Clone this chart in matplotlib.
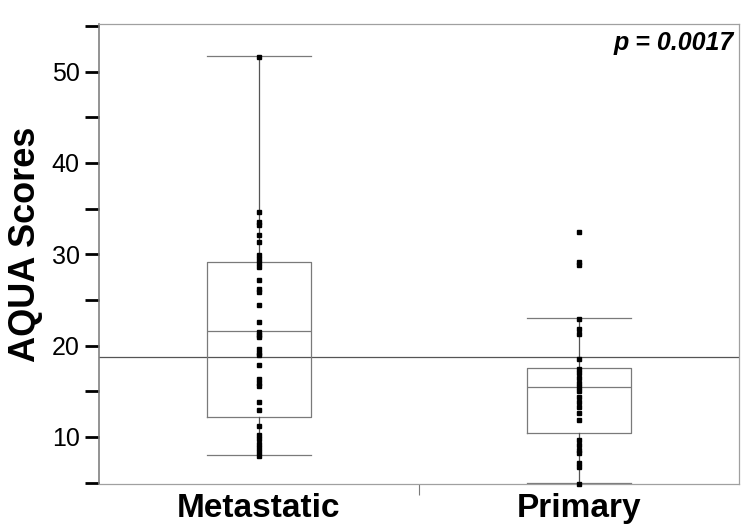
import numpy as np
import matplotlib
matplotlib.use("Agg")
import matplotlib.pyplot as plt

plt.rcParams["font.family"] = ["Liberation Sans", "DejaVu Sans"]

# data
groups = ["Metastatic", "Primary"]
metastatic = [51.6, 34.6, 33.5, 33.2, 32.1, 31.3, 29.9, 29.5, 29.0, 28.6,
              27.2, 26.2, 25.9, 24.4, 22.6, 21.5, 21.2, 20.9, 19.6, 19.2,
              19.0, 17.9, 16.3, 15.95, 15.6, 13.8, 12.9, 11.2, 10.2, 9.75,
              9.2, 8.8, 8.3, 7.9]
primary = [32.4, 29.1, 28.8, 22.9, 21.8, 21.25, 18.5, 17.4, 17.0, 16.4,
           15.9, 15.5, 15.0, 14.4, 13.8, 13.3, 12.6, 11.9, 9.7, 9.1,
           8.6, 8.2, 7.1, 6.7, 4.9]
q1 = [12.2, 10.4]
med = [21.6, 15.5]
q3 = [29.2, 17.5]
whislo = [8.0, 5.0]
whishi = [51.7, 23.0]
ref_line = 18.75
p_text = "p = 0.0017"

fig = plt.figure(figsize=(7.54, 5.31), dpi=100)
ax = fig.add_axes([0.1313, 0.0885, 0.8487, 0.8663])

stats = []
for i in range(2):
    stats.append(dict(q1=q1[i], med=med[i], q3=q3[i],
                      whislo=whislo[i], whishi=whishi[i], fliers=[]))

gray = "#7a7a7a"
ax.bxp(stats, positions=[1, 2], widths=0.325, showfliers=False,
       boxprops=dict(color=gray, lw=0.9),
       medianprops=dict(color=gray, lw=0.9),
       whiskerprops=dict(color="#555555", lw=0.9),
       capprops=dict(color=gray, lw=0.9),
       capwidths=0.325)

ax.axhline(ref_line, color="#555555", lw=0.9, zorder=1)

ax.plot(np.full(len(metastatic), 1.0), metastatic, "s", color="black",
        ms=3.2, zorder=5, clip_on=False)
ax.plot(np.full(len(primary), 2.0), primary, "s", color="black",
        ms=3.2, zorder=5, clip_on=False)

ax.set_xlim(0.5, 2.5)
ax.set_ylim(4.85, 55.2)

ax.set_yticks(np.arange(5, 56, 5))
ax.set_yticklabels(["" if v % 10 else str(v) for v in range(5, 56, 5)])
ax.tick_params(axis="y", length=10, width=2, color="black", labelsize=18, pad=4)

ax.set_xticks([1.5])
ax.set_xticklabels([""])
ax.tick_params(axis="x", length=8, width=0.8, color=gray)
for i, g in enumerate(groups):
    ax.text(i + 1, -0.02, g, transform=ax.get_xaxis_transform(),
            ha="center", va="top", fontsize=24, fontweight="bold")

ax.set_ylabel("AQUA Scores", fontsize=26, fontweight="bold")
ax.yaxis.set_label_coords(-0.088, 0.52)

for s in ["top", "right", "bottom"]:
    ax.spines[s].set_color("#a0a0a0")
    ax.spines[s].set_linewidth(0.9)
ax.spines["left"].set_color("#808080")
ax.spines["left"].set_linewidth(1.2)

ax.text(0.992, 0.985, p_text, transform=ax.transAxes, ha="right", va="top",
        fontsize=18, fontweight="bold", fontstyle="italic")

fig.savefig("out.png", dpi=100)
